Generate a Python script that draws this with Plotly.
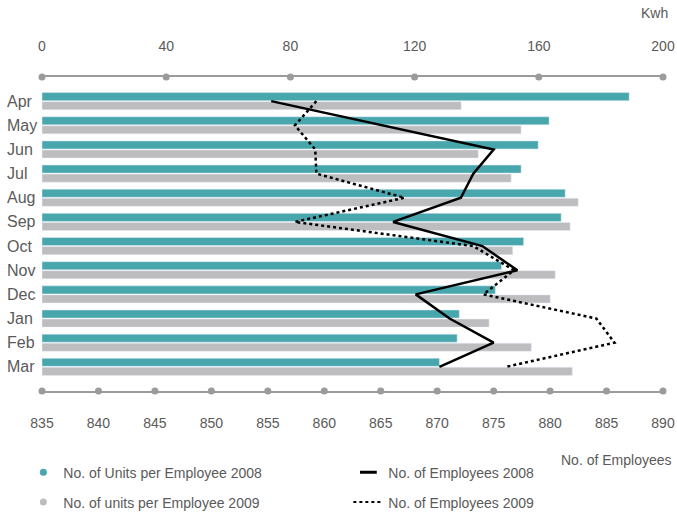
import plotly.graph_objects as go

months = ["Apr", "May", "Jun", "Jul", "Aug", "Sep", "Oct", "Nov", "Dec", "Jan", "Feb", "Mar"]
units_2008 = [189.1, 163.3, 159.8, 154.3, 168.5, 167.2, 155.1, 148.0, 146.0, 134.4, 133.7, 128.0]
units_2009 = [135.0, 154.3, 140.5, 151.1, 172.7, 170.1, 151.6, 165.3, 163.7, 144.0, 157.6, 170.8]
employees_2008 = [855.3, 865.1, 875.0, 873.2, 872.1, 866.1, 874.0, 877.1, 868.1, 871.1, 875.0, 870.2]
employees_2009 = [859.3, 857.4, 859.2, 859.3, 867.1, 857.4, 873.2, 876.8, 874.1, 884.1, 885.7, 876.1]
kwh_ticks = [0, 40, 80, 120, 160, 200]
emp_ticks = [835, 840, 845, 850, 855, 860, 865, 870, 875, 880, 885, 890]

TEAL = "#48a6ad"
GREY = "#bdbdbf"
AXIS = "#9b9b9e"
TEXT = "#5a5a5a"
FONT = "Liberation Sans, Arial, sans-serif"

fig = go.Figure()

# bars (kwh axis = x, top)
fig.add_trace(go.Bar(y=months, x=units_2008, orientation="h", marker_color=TEAL,
                     xaxis="x", yaxis="y", showlegend=False, hoverinfo="skip"))
fig.add_trace(go.Bar(y=months, x=units_2009, orientation="h", marker_color=GREY,
                     xaxis="x", yaxis="y", showlegend=False, hoverinfo="skip"))

# employee lines (x2, bottom)
fig.add_trace(go.Scatter(y=months, x=employees_2008, mode="lines", xaxis="x2", yaxis="y",
                         line=dict(color="black", width=2.5), showlegend=False, hoverinfo="skip"))
fig.add_trace(go.Scatter(y=months, x=employees_2009, mode="lines", xaxis="x2", yaxis="y",
                         line=dict(color="black", width=2.5, dash="dot"), showlegend=False, hoverinfo="skip"))

# axis tick dots
fig.add_trace(go.Scatter(x=kwh_ticks, y=[1] * len(kwh_ticks), mode="markers", xaxis="x", yaxis="y2",
                         marker=dict(color=AXIS, size=7), cliponaxis=False, showlegend=False, hoverinfo="skip"))
fig.add_trace(go.Scatter(x=emp_ticks, y=[0] * len(emp_ticks), mode="markers", xaxis="x2", yaxis="y2",
                         marker=dict(color=AXIS, size=7), cliponaxis=False, showlegend=False, hoverinfo="skip"))

# legend entries
fig.add_trace(go.Scatter(x=[None], y=[None], mode="markers", name="No. of Units per Employee 2008",
                         marker=dict(color=TEAL, size=7), legend="legend"))
fig.add_trace(go.Scatter(x=[None], y=[None], mode="markers", name="No. of Employees 2008",
                         marker=dict(symbol="line-ew-open", size=12, color="black",
                                     line=dict(color="black", width=3)),
                         legend="legend"))
fig.add_trace(go.Scatter(x=[None], y=[None], mode="markers", name="No. of units per Employee 2009",
                         marker=dict(color=GREY, size=7), legend="legend2"))
fig.add_trace(go.Scatter(x=[None], y=[None], mode="lines", name="No. of Employees 2009",
                         line=dict(color="black", width=2, dash="dot"), legend="legend2"))

annotations = [
    dict(text=m, x=-0.0595, xref="paper", y=m, yref="y", xanchor="left", yanchor="middle",
         showarrow=False, font=dict(size=16, color=TEXT, family=FONT))
    for m in months
]
annotations.append(dict(text="Kwh", x=1.0117, xref="paper", y=1.204, yref="paper",
                        xanchor="right", yanchor="middle", showarrow=False,
                        font=dict(size=14, color=TEXT, family=FONT)))
annotations.append(dict(text="No. of Employees", x=1.018, xref="paper", y=-0.22, yref="paper",
                        xanchor="right", yanchor="middle", showarrow=False,
                        font=dict(size=14, color=TEXT, family=FONT)))

legend_common = dict(orientation="h", entrywidth=280, entrywidthmode="pixels",
                     xanchor="left", yanchor="middle", bgcolor="rgba(0,0,0,0)",
                     font=dict(size=14, color=TEXT, family=FONT))

fig.update_layout(
    width=677, height=517,
    margin=dict(l=42, r=14, t=77, b=126, autoexpand=False),
    paper_bgcolor="white", plot_bgcolor="white",
    barmode="group", bargap=0.25, bargroupgap=0.11,
    font=dict(family=FONT, color=TEXT, size=14),
    xaxis=dict(range=[0, 200], side="top", tickvals=kwh_ticks, showgrid=False, zeroline=False,
               showline=True, linecolor=AXIS, linewidth=1.5,
               ticks="outside", ticklen=19, tickcolor="rgba(0,0,0,0)",
               tickfont=dict(size=14, color=TEXT, family=FONT), anchor="y", automargin=False),
    xaxis2=dict(range=[835, 890], side="bottom", overlaying="x", tickvals=emp_ticks,
                showgrid=False, zeroline=False, showline=True, linecolor=AXIS, linewidth=1.5,
                ticks="outside", ticklen=18, tickcolor="rgba(0,0,0,0)",
                tickfont=dict(size=14, color=TEXT, family=FONT), anchor="y", automargin=False),
    yaxis=dict(type="category", categoryarray=months, categoryorder="array", range=[12, -1],
               showticklabels=False, showgrid=False, zeroline=False, showline=False, ticks="",
               automargin=False),
    yaxis2=dict(range=[0, 1], overlaying="y", visible=False, anchor="x"),
    legend=dict(x=-0.03, y=-0.26, **legend_common),
    legend2=dict(x=-0.03, y=-0.355, **legend_common),
    annotations=annotations,
    showlegend=True,
)

fig.write_html("out.html", config={"displayModeBar": False},
               post_script="document.body.style.margin='0';document.body.style.overflow='hidden';")
